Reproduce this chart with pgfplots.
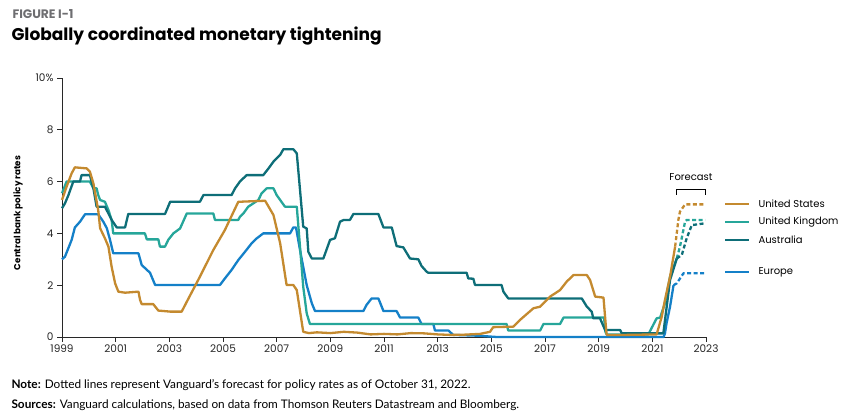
\documentclass[border=0pt]{standalone}
\usepackage{pgfplots}
\pgfplotsset{compat=1.18}
\usepackage{fontspec}
\setmainfont{Poppins}
\newfontfamily\notefont{Lato}
\definecolor{usc}{RGB}{196,138,47}
\definecolor{ukc}{RGB}{38,166,154}
\definecolor{auc}{RGB}{14,110,120}
\definecolor{euc}{RGB}{20,128,200}
\definecolor{figgray}{RGB}{110,110,113}
\definecolor{axc}{RGB}{40,40,40}
\begin{document}
\begin{tikzpicture}[x=1pt,y=1pt]
\useasboundingbox (0,0) rectangle (851,419);
\begin{axis}[
  at={(62pt,82pt)}, anchor=south west,
  scale only axis, width=644pt, height=259pt,
  xmin=1999, xmax=2023, ymin=0, ymax=10,
  axis lines*=left,
  axis line style={axc, line width=0.9pt},
  clip=false,
  xtick={1999,2001,...,2023},
  ytick={0,2,...,10},
  yticklabels={0,2,4,6,8,10\%},
  tick align=outside,
  major tick length=5pt,
  tick style={axc, line width=0.9pt},
  /pgf/number format/assume math mode=true,
  /pgf/number format/1000 sep={},
  tick label style={font=\fontsize{10.5}{12}\selectfont, text=black!85},
  xticklabel style={yshift=1pt},
  every axis plot/.append style={line width=2.3pt, line join=round},
]
% Europe
\addplot[euc] coordinates {(1999.0,3.0)(1999.11,3.1)(1999.36,3.75)(1999.48,4.23)(1999.67,4.45)(1999.86,4.74)(2000.35,4.74)(2000.54,4.45)(2000.67,4.2)(2000.79,3.75)(2000.91,3.23)(2001.85,3.23)(2001.97,2.78)(2002.28,2.48)(2002.47,2.01)(2004.89,2.01)(2005.07,2.26)(2005.32,2.59)(2005.57,2.97)(2005.82,3.29)(2006.07,3.62)(2006.26,3.81)(2006.50,4.0)(2007.50,4.0)(2007.62,4.23)(2007.72,4.23)(2007.87,3.36)(2008.12,2.0)(2008.31,1.30)(2008.43,1.0)(2010.23,1.0)(2010.35,1.24)(2010.54,1.49)(2010.79,1.49)(2010.98,1.0)(2011.47,1.0)(2011.60,0.75)(2012.28,0.75)(2012.40,0.5)(2012.84,0.5)(2012.9,0.25)(2013.40,0.25)(2013.58,0.08)(2014.5,0.05)(2015.2,0.0)(2021.42,0.0)(2021.47,0.14)(2021.53,0.53)(2021.66,1.17)(2021.79,2.0)};
\addplot[euc, dash pattern=on 4pt off 2.5pt] coordinates {(2021.79,2.0)(2021.91,2.07)(2022.16,2.46)(2022.97,2.46)};
% UK
\addplot[ukc] coordinates {(1999.0,5.55)(1999.17,6.0)(2000.04,6.0)(2000.17,5.74)(2000.29,5.74)(2000.35,5.48)(2000.42,5.29)(2000.60,5.22)(2000.73,4.90)(2000.85,4.52)(2000.91,4.0)(2002.09,4.0)(2002.16,3.77)(2002.59,3.77)(2002.65,3.49)(2002.84,3.49)(2002.96,3.75)(2003.15,4.0)(2003.40,4.19)(2003.65,4.77)(2004.64,4.77)(2004.70,4.52)(2005.57,4.52)(2005.63,4.64)(2005.76,4.77)(2005.94,5.03)(2006.32,5.29)(2006.44,5.55)(2006.63,5.74)(2006.88,5.74)(2007.0,5.48)(2007.13,5.29)(2007.31,5.03)(2007.75,5.03)(2007.99,1.94)(2008.12,0.91)(2008.24,0.5)(2015.57,0.5)(2015.63,0.25)(2016.82,0.25)(2016.94,0.5)(2017.56,0.5)(2017.69,0.75)(2019.2,0.75)(2019.25,0.2)(2019.3,0.1)(2020.85,0.1)(2021.16,0.72)(2021.29,0.75)(2021.47,1.3)(2021.66,2.33)(2021.91,3.03)};
\addplot[ukc, dash pattern=on 4pt off 2.5pt] coordinates {(2021.91,3.03)(2022.03,3.49)(2022.22,4.45)(2022.28,4.52)(2022.97,4.52)};
% Australia
\addplot[auc] coordinates {(1999.0,4.97)(1999.11,5.16)(1999.24,5.48)(1999.42,6.0)(1999.67,6.0)(1999.73,6.25)(2000.04,6.25)(2000.17,5.74)(2000.29,5.03)(2000.60,5.03)(2000.73,4.77)(2000.85,4.52)(2000.98,4.32)(2001.04,4.23)(2001.35,4.23)(2001.47,4.75)(2002.84,4.75)(2003.03,5.22)(2004.14,5.22)(2004.27,5.48)(2005.32,5.48)(2005.45,5.74)(2005.63,6.0)(2005.88,6.25)(2006.50,6.25)(2006.69,6.5)(2006.88,6.77)(2007.13,7.03)(2007.25,7.25)(2007.62,7.25)(2007.75,7.09)(2007.87,5.68)(2007.99,4.26)(2008.12,4.19)(2008.18,3.29)(2008.31,3.03)(2008.74,3.03)(2008.99,3.75)(2009.17,3.81)(2009.36,4.45)(2009.50,4.52)(2009.73,4.52)(2009.86,4.75)(2010.79,4.75)(2010.98,4.23)(2011.29,4.23)(2011.47,3.51)(2011.72,3.46)(2011.97,3.03)(2012.28,3.0)(2012.40,2.74)(2012.59,2.52)(2012.65,2.48)(2014.08,2.48)(2014.14,2.26)(2014.33,2.25)(2014.39,2.01)(2015.38,2.01)(2015.45,1.75)(2015.63,1.49)(2018.37,1.49)(2018.56,1.17)(2018.74,0.98)(2018.80,0.72)(2019.05,0.72)(2019.24,0.27)(2019.80,0.27)(2019.86,0.14)(2021.41,0.14)(2021.66,2.2)(2021.91,3.03)};
\addplot[auc, dash pattern=on 4pt off 2.5pt] coordinates {(2021.91,3.03)(2022.1,3.17)(2022.28,3.81)(2022.47,4.32)(2022.97,4.39)};
% United States
\addplot[usc] coordinates {(1999.0,5.29)(1999.17,5.80)(1999.36,6.32)(1999.48,6.55)(1999.92,6.51)(2000.04,6.38)(2000.17,5.93)(2000.35,4.90)(2000.42,4.20)(2000.60,3.81)(2000.73,3.49)(2000.85,2.71)(2000.98,2.07)(2001.10,1.75)(2001.35,1.71)(2001.85,1.75)(2001.91,1.43)(2001.97,1.27)(2002.40,1.27)(2002.59,1.02)(2003.03,0.98)(2003.46,0.98)(2003.65,1.36)(2004.14,2.33)(2004.64,3.36)(2005.07,4.13)(2005.57,5.22)(2006.57,5.26)(2006.88,4.71)(2007.13,3.62)(2007.37,2.01)(2007.62,2.01)(2007.75,1.81)(2007.99,0.20)(2008.2,0.15)(2008.5,0.18)(2009.0,0.15)(2009.5,0.2)(2010,0.17)(2010.5,0.1)(2011,0.12)(2011.5,0.1)(2012,0.15)(2012.5,0.14)(2013,0.1)(2013.5,0.08)(2014,0.09)(2014.58,0.12)(2014.95,0.2)(2015.07,0.38)(2015.82,0.4)(2016.07,0.66)(2016.57,1.11)(2016.82,1.17)(2017.19,1.56)(2017.56,1.81)(2017.81,2.14)(2018.06,2.39)(2018.56,2.39)(2018.68,2.2)(2018.87,1.56)(2019.18,1.52)(2019.28,0.27)(2019.30,0.08)(2020,0.08)(2021.16,0.1)(2021.35,0.78)(2021.47,1.43)(2021.66,2.33)(2021.85,3.49)};
\addplot[usc, dash pattern=on 4pt off 2.5pt] coordinates {(2021.85,3.49)(2021.97,4.52)(2022.03,4.84)(2022.22,5.12)(2022.97,5.12)};
\end{axis}
% titles
\node[anchor=west, text=figgray, font=\bfseries\fontsize{12.3}{14}\selectfont] at (9,405) {FIGURE I-1};
\node[anchor=west, font=\bfseries\fontsize{17}{20}\selectfont] at (8,383) {Globally coordinated monetary tightening};
\node[rotate=90, font=\bfseries\fontsize{8.8}{10}\selectfont] at (18,206) {Central bank policy rates};
% forecast bracket
\draw[black, line width=0.9pt] (676.3,224) -- (676.3,230) -- (705.3,230) -- (705.3,224);
\node[font=\fontsize{10}{12}\selectfont] at (691,242) {Forecast};
% legend
\foreach \c/\y/\t in {usc/215.3/United States, ukc/197/United Kingdom, auc/179/Australia, euc/147/Europe}{
  \draw[\c, line width=2.3pt] (725,\y) -- (749,\y);
  \node[anchor=west, font=\fontsize{10}{12}\selectfont] at (755,\y) {\t};
}
% notes
\node[anchor=west, font=\notefont\fontsize{11.8}{13}\selectfont] at (8,34) {\textbf{Note:} Dotted lines represent Vanguard’s forecast for policy rates as of October 31, 2022.};
\node[anchor=west, font=\notefont\fontsize{11.8}{13}\selectfont] at (8,14) {\textbf{Sources:} Vanguard calculations, based on data from Thomson Reuters Datastream and Bloomberg.};
\end{tikzpicture}
\end{document}
